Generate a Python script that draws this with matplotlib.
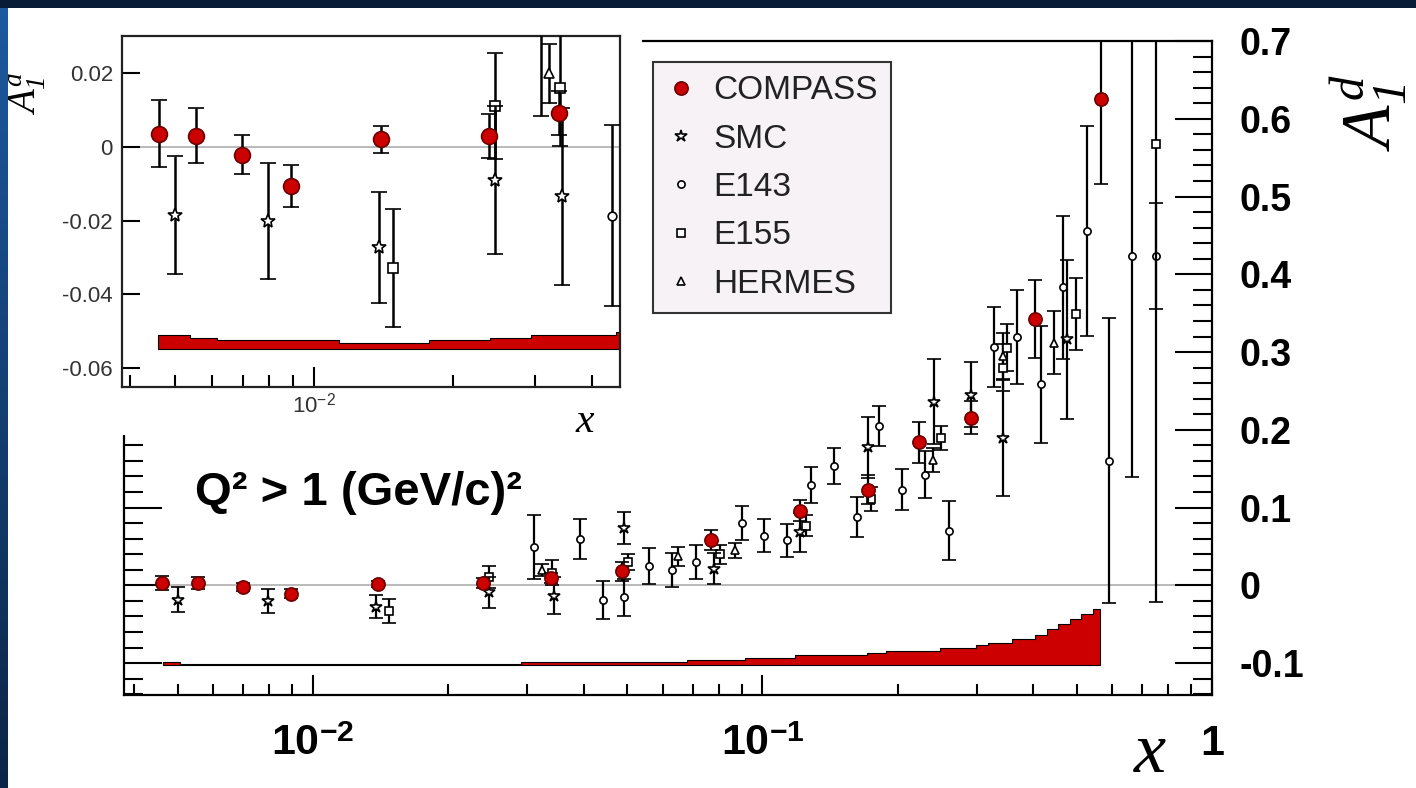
import numpy as np
import matplotlib.pyplot as plt
import matplotlib.transforms as mtransforms
from matplotlib.colors import LinearSegmentedColormap
from matplotlib.lines import Line2D
from matplotlib.patches import Rectangle
from matplotlib.ticker import MultipleLocator, LogLocator, NullFormatter, NullLocator

plt.rcParams['font.family'] = ['Liberation Sans', 'DejaVu Sans']
plt.rcParams['axes.unicode_minus'] = False
plt.rcParams['mathtext.fontset'] = 'custom'
plt.rcParams['mathtext.rm'] = 'Liberation Serif:italic'
plt.rcParams['mathtext.it'] = 'Liberation Serif:italic'
plt.rcParams['mathtext.bf'] = 'Liberation Sans:bold'
plt.rcParams['mathtext.sf'] = 'Liberation Sans'

# ---- data ----
COMPASS_X = [0.00462, 0.00555, 0.00698, 0.00892, 0.01395, 0.0239, 0.0338, 0.0487,
             0.0769, 0.1213, 0.1714, 0.2234, 0.2905, 0.4044, 0.5655]
COMPASS_Y = [0.0036, 0.0030, -0.0021, -0.0106, 0.0020, 0.0030, 0.0093, 0.018,
             0.0586, 0.0962, 0.123, 0.1837, 0.2154, 0.3427, 0.625]
COMPASS_E = [0.009, 0.0075, 0.0052, 0.0058, 0.0037, 0.006, 0.006, 0.012,
             0.013, 0.014, 0.019, 0.0267, 0.0214, 0.05, 0.1095]

SMC_X = [0.00501, 0.00795, 0.0138, 0.0246, 0.0343, 0.0492, 0.0782, 0.1213,
         0.1714, 0.241, 0.291, 0.342, 0.477]
SMC_Y = [-0.0184, -0.0202, -0.0273, -0.009, -0.0134, 0.0737, 0.0214, 0.0683,
         0.1773, 0.2363, 0.2453, 0.1897, 0.3163]
SMC_E = [0.016, 0.0158, 0.015, 0.02, 0.024, 0.021, 0.02, 0.025,
         0.039, 0.055, 0.042, 0.075, 0.102]

E143_X = [0.031, 0.0393, 0.0442, 0.0493, 0.056, 0.063, 0.071, 0.0901, 0.101,
          0.1135, 0.1283, 0.144, 0.162, 0.182, 0.204, 0.230, 0.2594, 0.3278,
          0.369, 0.416, 0.4666, 0.526, 0.589, 0.664, 0.749]
E143_Y = [0.0494, 0.0594, -0.0187, -0.0154, 0.0244, 0.0201, 0.0299, 0.0799,
          0.0641, 0.0577, 0.1291, 0.1538, 0.0876, 0.2051, 0.1231, 0.1423,
          0.0705, 0.3068, 0.3192, 0.2586, 0.3833, 0.4555, 0.1603, 0.4231, 0.4231]
E143_E = [0.041, 0.0256, 0.0245, 0.024, 0.023, 0.022, 0.0214, 0.0218, 0.021,
          0.0218, 0.0229, 0.023, 0.0256, 0.026, 0.0267, 0.0304, 0.0385, 0.0513,
          0.06, 0.075, 0.092, 0.135, 0.183, 0.284, 0.068]

E155_X = [0.0148, 0.0246, 0.0341, 0.0502, 0.0805, 0.125, 0.1744, 0.2495,
          0.343, 0.3508, 0.498, 0.75]
E155_Y = [-0.033, 0.0111, 0.0161, 0.0299, 0.0397, 0.0769, 0.111, 0.1894,
          0.2799, 0.3055, 0.349, 0.567]
E155_E = [0.016, 0.0143, 0.016, 0.010, 0.012, 0.014, 0.016, 0.015,
          0.03, 0.03, 0.046, 0.588]

HERMES_X = [0.0323, 0.065, 0.0867, 0.240, 0.3425, 0.4457]
HERMES_Y = [0.020, 0.0372, 0.0449, 0.1612, 0.2949, 0.312]
HERMES_E = [0.008, 0.012, 0.010, 0.015, 0.03, 0.0406]

# systematic band, main panel (bin edges and heights above the base)
BAND_EDGES = [0.00464, 0.00506, 0.0290, 0.0681, 0.0914, 0.1179, 0.1710, 0.1886,
              0.2481, 0.2989, 0.3170, 0.3599, 0.4049, 0.4292, 0.4551, 0.4829,
              0.5121, 0.5431, 0.5648]
BAND_H = [0.0035, 0.0009, 0.0035, 0.0064, 0.0093, 0.0128, 0.015, 0.0183,
          0.0222, 0.0256, 0.0291, 0.0342, 0.0385, 0.047, 0.0535, 0.0599,
          0.0663, 0.0727]
BAND_BASE = -0.1026

# systematic band, inset
IBAND_EDGES = [0.0046, 0.00539, 0.00615, 0.01131, 0.0177, 0.024, 0.0294, 0.0451, 0.05]
IBAND_TOP = [-0.0510, -0.0519, -0.0525, -0.0532, -0.0525, -0.0519, -0.0512, -0.0502]
IBAND_BASE = -0.055

LABELS = ['COMPASS', 'SMC', 'E143', 'E155', 'HERMES']

YTICKS = [-0.1, 0, 0.1, 0.2, 0.3, 0.4, 0.5, 0.6, 0.7]
YTICK_LABELS = ['-0.1', '0', '0.1', '0.2', '0.3', '0.4', '0.5', '0.6', '0.7']
XTICKS = [0.01, 0.1, 1.0]
XTICK_LABELS = [r'$\mathbf{10}^{\mathbf{-2}}$', r'$\mathbf{10}^{\mathbf{-1}}$', '1']

INSET_YTICKS = [-0.06, -0.04, -0.02, 0, 0.02]
INSET_YTICK_LABELS = ['-0.06', '-0.04', '-0.02', '0', '0.02']

RED = '#cc0000'
STYLES = {
    'COMPASS': dict(marker='o', ms=9.5, mfc=RED, mec='#6a0000', z=6),
    'SMC': dict(marker='*', ms=9, mfc='white', mec='black', z=5),
    'E143': dict(marker='o', ms=5.2, mfc='white', mec='black', z=3),
    'E155': dict(marker='s', ms=5.5, mfc='white', mec='black', z=4),
    'HERMES': dict(marker='^', ms=6, mfc='white', mec='black', z=4),
}
SETS = [('E143', E143_X, E143_Y, E143_E), ('E155', E155_X, E155_Y, E155_E),
        ('HERMES', HERMES_X, HERMES_Y, HERMES_E), ('SMC', SMC_X, SMC_Y, SMC_E),
        ('COMPASS', COMPASS_X, COMPASS_Y, COMPASS_E)]

W, H = 1416, 788


def fbox(x0, y0, x1, y1):
    # pixel box (top-left origin) -> figure fraction [l, b, w, h]
    return [x0 / W, 1 - y1 / H, (x1 - x0) / W, (y1 - y0) / H]


def draw_sets(a, cap, lw, scale):
    for name, xs, ys, es in SETS:
        st = STYLES[name]
        a.errorbar(xs, ys, yerr=es, fmt=st['marker'], ms=st['ms'] * scale,
                   mfc=st['mfc'], mec=st['mec'], mew=1.2, ecolor='black',
                   elinewidth=lw, capsize=cap, capthick=lw, zorder=st['z'])


fig = plt.figure(figsize=(W / 100, H / 100), dpi=100, facecolor='white')

# ---- main panel ----
ax = fig.add_axes(fbox(124, 41, 1212, 695))
ax.set_xscale('log')
ax.set_xlim(0.0038, 1.0)
ax.set_ylim(-0.141, 0.698)
ax.axhline(0, color='#b4b4b4', lw=1.3, zorder=1)
band_top = [BAND_BASE + h for h in BAND_H] + [BAND_BASE + BAND_H[-1]]
ax.fill_between(BAND_EDGES, BAND_BASE, band_top, step='post',
                facecolor=RED, edgecolor='black', lw=0.8, zorder=2)
draw_sets(ax, cap=4.8, lw=1.6, scale=1.0)

for sp in ax.spines.values():
    sp.set_linewidth(1.6)
ax.set_yticks(YTICKS)
ax.set_yticklabels(YTICK_LABELS, fontweight='bold')
ax.yaxis.set_minor_locator(MultipleLocator(0.02))
ax.tick_params(axis='y', which='both', direction='in', left=True, right=True,
               labelleft=False, labelright=True)
ax.tick_params(axis='y', which='major', length=27, width=1.5, pad=20, labelsize=27)
ax.tick_params(axis='y', which='minor', length=14, width=1.5)
ax.set_xticks(XTICKS)
ax.xaxis.set_minor_locator(LogLocator(base=10, subs=np.arange(2, 10)))
ax.xaxis.set_minor_formatter(NullFormatter())
ax.tick_params(axis='x', which='both', direction='in', top=False, bottom=True,
               labelbottom=False)
ax.tick_params(axis='x', which='major', length=14.5, width=1.5)
ax.tick_params(axis='x', which='minor', length=8, width=1.5)

trans = mtransforms.blended_transform_factory(ax.transData, ax.transAxes)
for xv, lab in zip(XTICKS, XTICK_LABELS):
    ax.text(xv, -0.092, lab, transform=trans, ha='center', va='baseline',
            fontsize=31, fontweight='bold', clip_on=False)

handles = [Line2D([], [], ls='none', marker=STYLES[n]['marker'], ms=STYLES[n]['ms'],
                  mfc=STYLES[n]['mfc'], mec=STYLES[n]['mec'], mew=1.2) for n in LABELS]
leg = ax.legend(handles, LABELS, loc='upper left', bbox_to_anchor=(653 / W, 1 - 62 / H),
                bbox_transform=fig.transFigure, fontsize=24, frameon=True, fancybox=False,
                facecolor='#f6f2f6', edgecolor='#333333', framealpha=1, borderpad=0.4,
                labelspacing=0.52, handlelength=0.9, handletextpad=0.5, borderaxespad=0)
leg.get_frame().set_linewidth(1.5)
for t in leg.get_texts():
    t.set_color('#222222')

fig.text(195 / W, 1 - 505 / H, 'Q² > 1 (GeV/c)²', fontsize=34, fontweight='bold',
         ha='left', va='baseline')
fig.text(1150 / W, 1 - 772 / H, 'x', family='Liberation Serif', style='italic',
         fontsize=52, ha='center', va='baseline')
fig.text(1369 / W, 1 - 112 / H, r'$A_1^d$', rotation=90, fontsize=50,
         ha='center', va='center')

# white area behind the inset
fig.add_artist(Rectangle((8 / W, 1 - 435 / H), 634 / W, 427 / H, transform=fig.transFigure,
                         facecolor='white', edgecolor='none', zorder=1))

# ---- inset ----
axi = fig.add_axes(fbox(122, 36, 620, 387), zorder=2)
axi.set_xscale('log')
axi.set_xlim(0.00384, 0.0459)
axi.set_ylim(-0.0652, 0.0301)
axi.axhline(0, color='#b4b4b4', lw=1.3, zorder=1)
axi.fill_between(IBAND_EDGES, IBAND_BASE, IBAND_TOP + [IBAND_TOP[-1]], step='post',
                 facecolor=RED, edgecolor='black', lw=0.8, zorder=2)
draw_sets(axi, cap=6.0, lw=1.8, scale=1.2)
for sp in axi.spines.values():
    sp.set_linewidth(1.6)
    sp.set_color('#222222')
axi.set_yticks(INSET_YTICKS)
axi.set_yticklabels(INSET_YTICK_LABELS)
axi.yaxis.set_minor_locator(NullLocator())
axi.tick_params(axis='y', which='major', direction='in', length=13, width=1.5,
                pad=6.5, labelsize=16, labelcolor='#333333', right=False)
axi.set_xticks([0.01])
axi.set_xticklabels([r'$\mathsf{10}^{\mathsf{-2}}$'])
axi.xaxis.set_minor_locator(LogLocator(base=10, subs=np.arange(2, 10)))
axi.xaxis.set_minor_formatter(NullFormatter())
axi.tick_params(axis='x', which='both', direction='in', top=False, width=1.5)
axi.tick_params(axis='x', which='major', length=14.5, pad=4, labelsize=16,
                labelcolor='#333333')
axi.tick_params(axis='x', which='minor', length=8.6)
fig.text(585 / W, 1 - 432 / H, 'x', family='Liberation Serif', style='italic',
         fontsize=30, ha='center', va='baseline')
fig.text(24 / W, 1 - 93 / H, r'$A_1^d$', rotation=90, fontsize=28,
         ha='center', va='center')

# ---- slide border ----
edge = fig.add_axes([0, 0, 8 / W, 1], zorder=10)
grad = np.linspace(0, 1, 256).reshape(-1, 1)
edge.imshow(grad, aspect='auto', extent=[0, 1, 0, 1],
            cmap=LinearSegmentedColormap.from_list('slide', ['#1d5aa0', '#0b2546']))
edge.set_axis_off()
fig.add_artist(Rectangle((0, 1 - 8 / H), 1, 8 / H, transform=fig.transFigure,
                         facecolor='#081c38', edgecolor='none', zorder=11))

fig.savefig('out.png', dpi=100, facecolor='white')
